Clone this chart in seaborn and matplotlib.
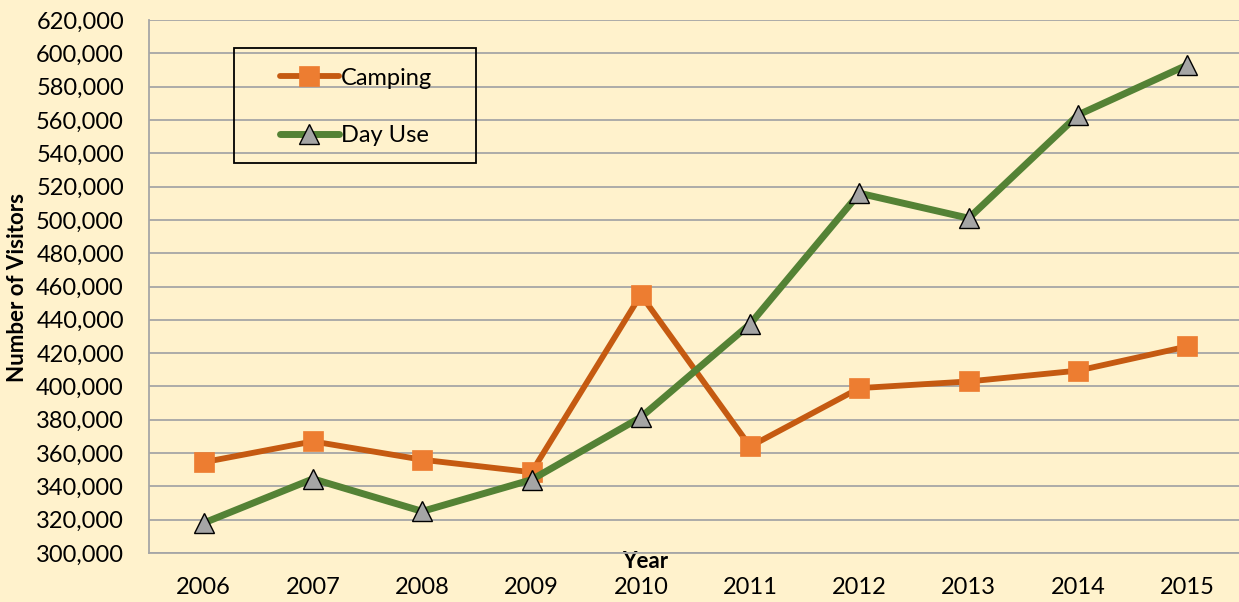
import matplotlib
matplotlib.use("Agg")
import matplotlib.pyplot as plt
import seaborn as sns
import pandas as pd
from matplotlib.patches import Rectangle
from matplotlib.ticker import FuncFormatter, MultipleLocator

years = ["2006", "2007", "2008", "2009", "2010", "2011", "2012", "2013", "2014", "2015"]
camping = [354500, 367000, 356000, 348500, 455000, 364000, 399000, 403000, 409500, 424000]
day_use = [318000, 344500, 325000, 344000, 381500, 437500, 516000, 501000, 563000, 593000]

bg = "#FFF2CC"
sns.set_theme(style="white")
plt.rcParams["font.family"] = ["Lato", "DejaVu Sans"]
plt.rcParams["text.color"] = "black"

fig = plt.figure(figsize=(12.39, 6.02), dpi=100, facecolor=bg)
ax = fig.add_axes([149/1239, 49/602, 1093/1239, 533/602])
ax.set_facecolor(bg)

pos = list(range(len(years)))
df = pd.DataFrame({"pos": pos, "Camping": camping, "Day Use": day_use})

sns.lineplot(data=df, x="pos", y="Camping", ax=ax, color="#C55A11", lw=4.2,
             marker="s", markersize=14, markerfacecolor="#ED7D31",
             markeredgecolor="#ED7D31", markeredgewidth=0.5, label="Camping", zorder=3)
sns.lineplot(data=df, x="pos", y="Day Use", ax=ax, color="#548235", lw=5,
             marker="^", markersize=15, markerfacecolor="#A5A5A5",
             markeredgecolor="black", markeredgewidth=1.0, label="Day Use", zorder=4)

ax.set_xlim(-0.5, len(years) - 0.5)
ax.set_ylim(300000, 620000)
ax.yaxis.set_major_locator(MultipleLocator(20000))
ax.yaxis.set_major_formatter(FuncFormatter(lambda v, p: f"{int(v):,}"))
ax.grid(axis="y", color="#A6A6A6", lw=1.3)
ax.set_axisbelow(True)

ax.set_xticks(pos)
ax.set_xticklabels(years)
ax.set_xticks([p - 0.5 for p in pos] + [len(years) - 0.5], minor=True)
ax.tick_params(axis="x", which="major", length=0, pad=17, labelsize=17, colors="black")
ax.tick_params(axis="x", which="minor", length=6, width=1.2, color="#A6A6A6", direction="out")
ax.tick_params(axis="y", which="major", length=6, width=1.2, color="#A6A6A6",
               direction="out", pad=12, labelsize=17, labelcolor="black")

for s in ["top", "right"]:
    ax.spines[s].set_visible(False)
for s in ["left", "bottom"]:
    ax.spines[s].set_color("#A6A6A6")
    ax.spines[s].set_linewidth(1.3)

ax.set_xlabel("Year", fontsize=16, fontweight="bold", color="black")
ax.xaxis.set_label_coords((645-149)/1093, (553-562)/533)
ax.xaxis.label.set_va("center")
ax.set_ylabel("Number of Visitors", fontsize=16, fontweight="bold", color="black")
ax.yaxis.set_label_coords((18-149)/1093, (553-287)/533)
ax.yaxis.label.set_va("center")

leg = ax.legend(loc="upper left", bbox_to_anchor=(249/1239, 1 - 37/602),
                bbox_transform=fig.transFigure, frameon=False, fontsize=17,
                handlelength=2.5, handletextpad=0.1, labelspacing=1.55,
                borderpad=0.8, labelcolor="black")
fig.patches.append(Rectangle((234/1239, 1 - 163/602), 242/1239, 115/602,
                             transform=fig.transFigure, fill=False,
                             edgecolor="black", lw=1.3))

fig.savefig("out.png", dpi=100, facecolor=bg)
